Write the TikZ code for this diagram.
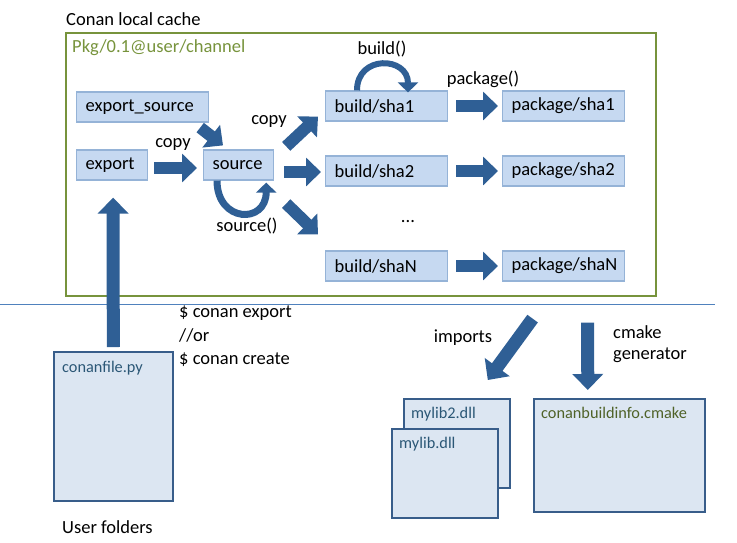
\documentclass[tikz,border=0pt]{standalone}
\usepackage{fontspec}
\setmainfont{Carlito}
\usetikzlibrary{arrows.meta}
\definecolor{arr}{HTML}{2F5F95}
\definecolor{bfill}{HTML}{C6D9F1}
\definecolor{bdraw}{HTML}{95B3D7}
\definecolor{grn}{HTML}{77933C}
\definecolor{sepc}{HTML}{4F81BD}
\definecolor{lfill}{HTML}{DCE6F2}
\definecolor{ldraw}{HTML}{385D8A}
\definecolor{ltext}{HTML}{2B5776}
\definecolor{gtext}{HTML}{4F6228}
\begin{document}
\begin{tikzpicture}[x=1pt,y=-1pt,
  font=\fontsize{18.5}{22}\selectfont,
  bx/.style={draw=bdraw, fill=bfill, line width=1.2pt, minimum height=30pt,
    inner xsep=9pt, inner ysep=0pt, align=left, anchor=west},
  bigbox/.style={draw=ldraw, fill=lfill, line width=1.6pt, anchor=north west, inner sep=0pt},
  lbl/.style={font=\fontsize{16.3}{19}\selectfont, anchor=north west, inner sep=0pt},
  blockarrow/.style={line width=12pt, draw=arr, -{Triangle[length=15pt,width=28pt]}},
  curlarrow/.style={line width=7pt, draw=arr, -{Triangle[length=10pt,width=20pt]}},
  txt/.style={inner sep=0pt},
  sepline/.style={draw=sepc, line width=1pt}]
\useasboundingbox (0,0) rectangle (737,542);

% cache frame and titles
\node[txt, anchor=west] (title) at (66,19) {Conan local cache};
\node[draw=grn, line width=1.5pt, minimum width=590pt, minimum height=263pt,
  anchor=north west, inner sep=0pt] (cache) at (65,32) {};
\node[txt, anchor=west, text=grn] (pkg) at (72,48) {Pkg/0.1@user/channel};

% separator
\draw[sepline] (0,304) -- (715,304);

% boxes inside cache
\node[bx, minimum width=132pt, text width=114pt] (es) at (76,107) {export\_source};
\node[bx, minimum width=71pt, text width=53pt] (ex) at (76,165) {export};
\node[bx, minimum width=70pt, text width=52pt] (src) at (203,165) {source};
\node[bx, minimum width=122pt, text width=104pt] (b1) at (325,106) {build/sha1};
\node[bx, minimum width=122pt, text width=104pt] (b2) at (325,171) {build/sha2};
\node[bx, minimum width=122pt, text width=104pt] (bN) at (325,266) {build/shaN};
\node[bx, minimum width=122pt, text width=104pt] (p1) at (502,106) {package/sha1};
\node[bx, minimum width=122pt, text width=104pt] (p2) at (502,171) {package/sha2};
\node[bx, minimum width=122pt, text width=104pt] (pN) at (502,266) {package/shaN};
\node[txt] (dots) at (408,222) {...};

% labels
\node[txt] (lbuild) at (382,49) {build()};
\node[txt] (lpack) at (483,79) {package()};
\node[txt] (lcopy1) at (269,121) {copy};
\node[txt] (lcopy2) at (173,144) {copy};
\node[txt] (lsrc) at (247,226) {source()};

% lower boxes
\node[bigbox, minimum width=119pt, minimum height=149pt] (cf) at (53,351) {};
\node[lbl, text=ltext] (cft) at ([shift={(9,10)}]cf.north west) {conanfile.py};
\node[bigbox, minimum width=106pt, minimum height=89pt] (ml2) at (403,398) {};
\node[lbl, text=ltext] (ml2t) at ([shift={(8,9)}]ml2.north west) {mylib2.dll};
\node[bigbox, minimum width=106pt, minimum height=89pt] (ml) at (391,428) {};
\node[lbl, text=ltext] (mlt) at ([shift={(8,9)}]ml.north west) {mylib.dll};
\node[bigbox, minimum width=171pt, minimum height=113pt] (cm) at (533,398) {};
\node[lbl, text=gtext] (cmt) at ([shift={(8,9)}]cm.north west) {conanbuildinfo.cmake};

\node[txt, anchor=north west, align=left, font=\fontsize{18.5}{23.5}\selectfont] (cmd) at (179,306)
  {\$ conan export\\//or\\\$ conan create};
\node[txt, anchor=west] (uf) at (62,527) {User folders};
\node[txt] (limp) at (463,338) {imports};
\node[txt, anchor=north west, align=left, font=\fontsize{18.5}{21.5}\selectfont] (lcm) at (613,325)
  {cmake\\generator};

% block arrows
\draw[blockarrow] ([shift={(6,3)}]ex.east) -- ([shift={(-6,3)}]src.west);
\draw[blockarrow] ([shift={(-9,5)}]es.south east) -- ([shift={(20,-4)}]src.north west);
\draw[blockarrow] ([shift={(12,-3)}]src.north east) -- ([shift={(-7,-5)}]b1.south west);
\draw[blockarrow] ([shift={(10,7)}]src.east) -- ([shift={(-4,1)}]b2.west);
\draw[blockarrow] ([shift={(12,23)}]src.south east) -- ([shift={(-7,-16)}]bN.north west);
\draw[blockarrow] ([shift={(8,0)}]b1.east) -- ([shift={(-4,0)}]p1.west);
\draw[blockarrow] ([shift={(8,0)}]b2.east) -- ([shift={(-4,0)}]p2.west);
\draw[blockarrow] ([shift={(8,0)}]bN.east) -- ([shift={(-4,0)}]pN.west);
\draw[blockarrow, line width=13pt, -{Triangle[length=16pt,width=30pt]}] ([shift={(0,-4)}]cf.north) -- ([shift={(1,17)}]ex.south);
\draw[blockarrow, line width=13pt, -{Triangle[length=16pt,width=30pt]}] ([shift={(-31,37)}]pN.south) -- ([shift={(31,-18)}]ml2.north);
\draw[blockarrow, line width=13pt, -{Triangle[length=16pt,width=30pt]}] ([shift={(24,41)}]pN.south) -- ([shift={(-31.5,-8)}]cm.north);

% curved arrows
\draw[curlarrow] ([shift={(14,0)}]src.south west) .. controls +(0,42) and +(0,42) .. ([shift={(-8,2)}]src.south east);
\draw[curlarrow, line width=6pt] ([shift={(32,0)}]b1.north west) .. controls +(0,-36) and +(0,-36) .. ([shift={(83,2)}]b1.north west);
\end{tikzpicture}
\end{document}
